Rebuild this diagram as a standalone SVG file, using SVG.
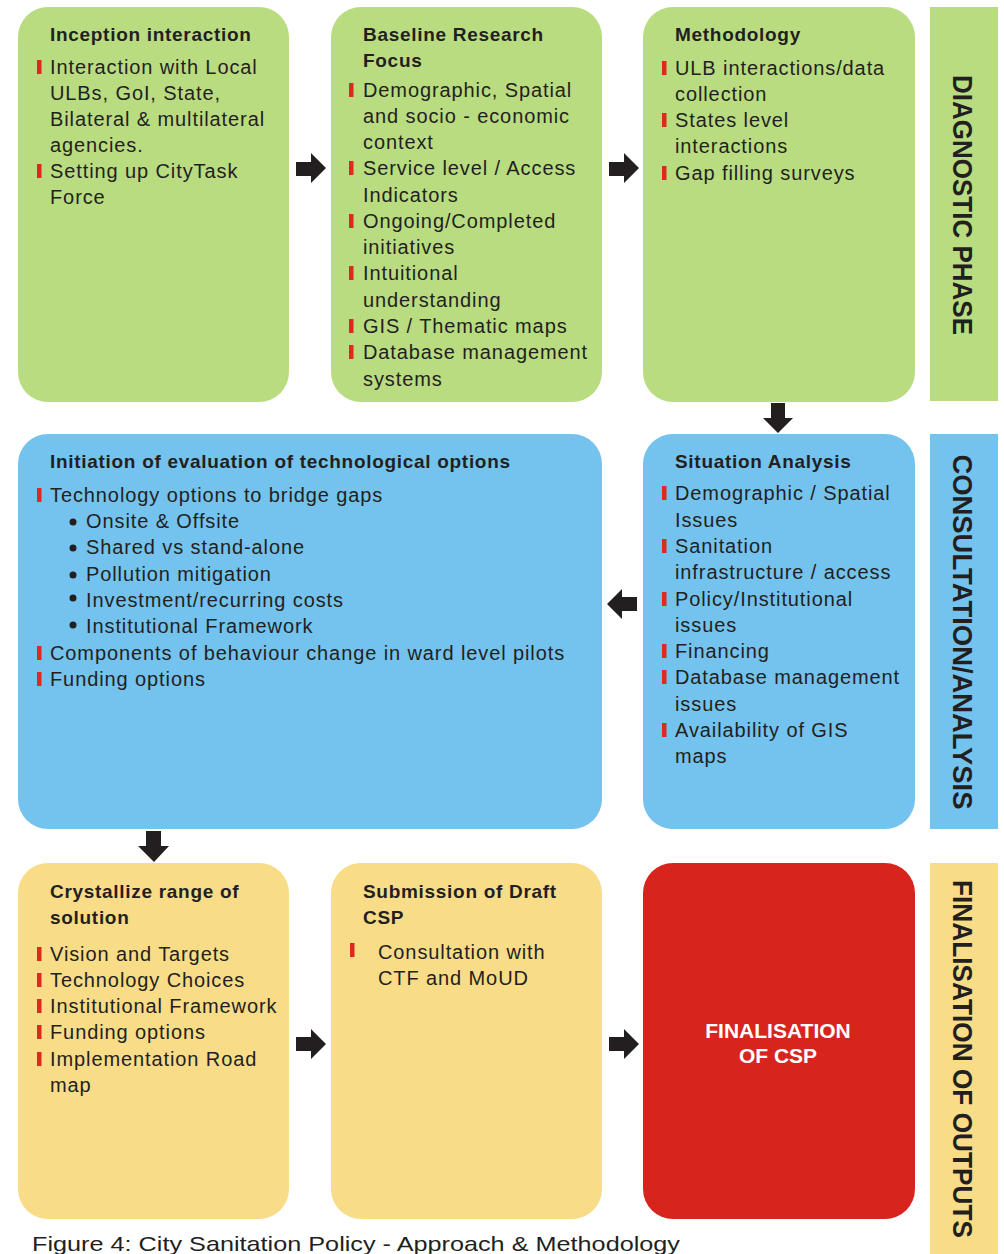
<svg xmlns="http://www.w3.org/2000/svg" width="1004" height="1254" viewBox="0 0 1004 1254">
<style>
.g{fill:#b9dc80}.b{fill:#73c3ee}.y{fill:#f8dc87}.r{fill:#d7251d}
.t{font-family:"Liberation Sans",Arial,sans-serif;font-size:20px;letter-spacing:0.9px;fill:#231f20}
.h{font-family:"Liberation Sans",Arial,sans-serif;font-size:19px;font-weight:bold;letter-spacing:0.7px;fill:#231f20}
.side{font-family:"Liberation Sans",Arial,sans-serif;font-size:28px;font-weight:bold;fill:#231f20}
.w{font-family:"Liberation Sans",Arial,sans-serif;font-size:21px;font-weight:bold;fill:#ffffff}
.cap{font-family:"Liberation Sans",Arial,sans-serif;font-size:21px;fill:#231f20}
.arr{fill:#231f20}
</style>
<defs>
<rect id="bar" width="4.5" height="14" fill="#dc2a1f"/>
<circle id="dot" r="3.5" fill="#231f20"/>
</defs>
<rect width="1004" height="1254" fill="#ffffff"/>

<g id="side-diagnostic">
<rect class="g" x="930" y="7" width="68" height="394"/>
<text class="side" transform="translate(953,205) rotate(90)" text-anchor="middle" textLength="260" lengthAdjust="spacingAndGlyphs">DIAGNOSTIC PHASE</text>
</g>
<g id="side-consultation">
<rect class="b" x="930" y="434" width="68" height="395"/>
<text class="side" transform="translate(953,632) rotate(90)" text-anchor="middle" textLength="355" lengthAdjust="spacingAndGlyphs">CONSULTATION/ANALYSIS</text>
</g>
<g id="side-finalisation">
<rect class="y" x="930" y="863" width="68" height="391"/>
<text class="side" transform="translate(953,1059) rotate(90)" text-anchor="middle" textLength="358" lengthAdjust="spacingAndGlyphs">FINALISATION OF OUTPUTS</text>
</g>

<g id="inception">
<rect class="g" x="18" y="7" width="271" height="395" rx="30"/>
<text class="h" x="50" y="41">Inception interaction</text>
<use href="#bar" x="37" y="60"/><use href="#bar" x="37" y="164"/>
<text class="t" x="50" y="74">Interaction with Local</text>
<text class="t" x="50" y="100">ULBs, GoI, State,</text>
<text class="t" x="50" y="126">Bilateral &amp; multilateral</text>
<text class="t" x="50" y="152">agencies.</text>
<text class="t" x="50" y="178">Setting up CityTask</text>
<text class="t" x="50" y="204">Force</text>
</g>

<g id="baseline">
<rect class="g" x="331" y="7" width="271" height="395" rx="30"/>
<text class="h" x="363" y="41">Baseline Research</text>
<text class="h" x="363" y="67">Focus</text>
<use href="#bar" x="349" y="83"/><use href="#bar" x="349" y="161"/><use href="#bar" x="349" y="214"/><use href="#bar" x="349" y="266"/><use href="#bar" x="349" y="319"/><use href="#bar" x="349" y="345"/>
<text class="t" x="363" y="97">Demographic, Spatial</text>
<text class="t" x="363" y="123">and socio - economic</text>
<text class="t" x="363" y="149">context</text>
<text class="t" x="363" y="175">Service level / Access</text>
<text class="t" x="363" y="202">Indicators</text>
<text class="t" x="363" y="228">Ongoing/Completed</text>
<text class="t" x="363" y="254">initiatives</text>
<text class="t" x="363" y="280">Intuitional</text>
<text class="t" x="363" y="307">understanding</text>
<text class="t" x="363" y="333">GIS / Thematic maps</text>
<text class="t" x="363" y="359">Database management</text>
<text class="t" x="363" y="386">systems</text>
</g>

<g id="methodology">
<rect class="g" x="643" y="7" width="272" height="395" rx="30"/>
<text class="h" x="675" y="41">Methodology</text>
<use href="#bar" x="662" y="61"/><use href="#bar" x="662" y="113"/><use href="#bar" x="662" y="166"/>
<text class="t" x="675" y="75">ULB interactions/data</text>
<text class="t" x="675" y="101">collection</text>
<text class="t" x="675" y="127">States level</text>
<text class="t" x="675" y="153">interactions</text>
<text class="t" x="675" y="180">Gap filling surveys</text>
</g>

<g id="evaluation">
<rect class="b" x="18" y="434" width="584" height="395" rx="30"/>
<text class="h" x="50" y="468">Initiation of evaluation of technological options</text>
<use href="#bar" x="37" y="488"/><use href="#bar" x="37" y="646"/><use href="#bar" x="37" y="672"/>
<text class="t" x="50" y="502">Technology options to bridge gaps</text>
<use href="#dot" x="73" y="522"/><use href="#dot" x="73" y="548"/><use href="#dot" x="73" y="575"/><use href="#dot" x="73" y="598"/><use href="#dot" x="73" y="625"/>
<text class="t" x="86" y="528">Onsite &amp; Offsite</text>
<text class="t" x="86" y="554">Shared vs stand-alone</text>
<text class="t" x="86" y="581">Pollution mitigation</text>
<text class="t" x="86" y="607">Investment/recurring costs</text>
<text class="t" x="86" y="633">Institutional Framework</text>
<text class="t" x="50" y="660">Components of behaviour change in ward level pilots</text>
<text class="t" x="50" y="686">Funding options</text>
</g>

<g id="situation">
<rect class="b" x="643" y="434" width="272" height="395" rx="30"/>
<text class="h" x="675" y="468">Situation Analysis</text>
<use href="#bar" x="662" y="486"/><use href="#bar" x="662" y="539"/><use href="#bar" x="662" y="592"/><use href="#bar" x="662" y="644"/><use href="#bar" x="662" y="670"/><use href="#bar" x="662" y="723"/>
<text class="t" x="675" y="500">Demographic / Spatial</text>
<text class="t" x="675" y="527">Issues</text>
<text class="t" x="675" y="553">Sanitation</text>
<text class="t" x="675" y="579">infrastructure / access</text>
<text class="t" x="675" y="606">Policy/Institutional</text>
<text class="t" x="675" y="632">issues</text>
<text class="t" x="675" y="658">Financing</text>
<text class="t" x="675" y="684">Database management</text>
<text class="t" x="675" y="711">issues</text>
<text class="t" x="675" y="737">Availability of GIS</text>
<text class="t" x="675" y="763">maps</text>
</g>

<g id="crystallize">
<rect class="y" x="18" y="863" width="271" height="356" rx="30"/>
<text class="h" x="50" y="898">Crystallize range of</text>
<text class="h" x="50" y="924">solution</text>
<use href="#bar" x="37" y="947"/><use href="#bar" x="37" y="973"/><use href="#bar" x="37" y="999"/><use href="#bar" x="37" y="1025"/><use href="#bar" x="37" y="1052"/>
<text class="t" x="50" y="961">Vision and Targets</text>
<text class="t" x="50" y="987">Technology Choices</text>
<text class="t" x="50" y="1013">Institutional Framework</text>
<text class="t" x="50" y="1039">Funding options</text>
<text class="t" x="50" y="1066">Implementation Road</text>
<text class="t" x="50" y="1092">map</text>
</g>

<g id="submission">
<rect class="y" x="331" y="863" width="271" height="356" rx="30"/>
<text class="h" x="363" y="898">Submission of Draft</text>
<text class="h" x="363" y="924">CSP</text>
<use href="#bar" x="350" y="943"/>
<text class="t" x="378" y="959">Consultation with</text>
<text class="t" x="378" y="985">CTF and MoUD</text>
</g>

<g id="finalisation">
<rect class="r" x="643" y="863" width="272" height="356" rx="30"/>
<text class="w" x="778" y="1038" text-anchor="middle">FINALISATION</text>
<text class="w" x="778" y="1063" text-anchor="middle">OF CSP</text>
</g>

<g id="connectors">
<polygon class="arr" points="296,162 311,162 311,153 326,168 311,183 311,176 296,176"/>
<polygon class="arr" points="609,162 624,162 624,153 639,168 624,183 624,176 609,176"/>
<polygon class="arr" points="771,403 785,403 785,418 793,418 778,433 763,418 771,418"/>
<polygon class="arr" points="637,597 622,597 622,589 607,604 622,619 622,611 637,611"/>
<polygon class="arr" points="146,831 161,831 161,846 169,846 154,862 138,846 146,846"/>
<polygon class="arr" points="296,1037 311,1037 311,1029 326,1044 311,1059 311,1051 296,1051"/>
<polygon class="arr" points="609,1037 624,1037 624,1029 639,1044 624,1059 624,1051 609,1051"/>
</g>

<text class="cap" x="32" y="1251" textLength="648" lengthAdjust="spacingAndGlyphs">Figure 4: City Sanitation Policy - Approach &amp; Methodology</text>
</svg>
